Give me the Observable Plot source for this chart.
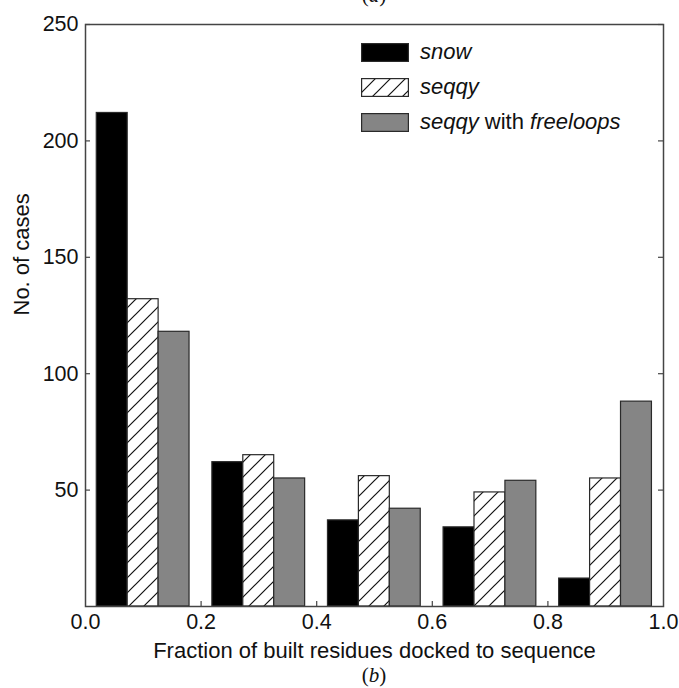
<!DOCTYPE html>
<html>
<head>
<meta charset="utf-8">
<script src="https://cdn.jsdelivr.net/npm/d3@7"></script>
<script src="https://cdn.jsdelivr.net/npm/@observablehq/plot@0.6"></script>
<style>
  html, body { margin: 0; padding: 0; background: #fff; }
  #wrap { position: relative; width: 679px; height: 688px; overflow: hidden; }
  #legend { position: absolute; left: 361px; top: 43px; font-family: "Liberation Sans", Arial, sans-serif; font-size: 22px; color: #111; }
  .row { display: flex; align-items: center; height: 18px; margin-bottom: 17px; }
  .row svg { display: block; margin-right: 11px; }
  .row span { line-height: 18px; }
</style>
</head>
<body>
<div id="wrap"></div>
<script>
// ---- data ----
const binStarts = [0, 0.2, 0.4, 0.6, 0.8];
const seriesNames = ["snow", "seqqy", "seqqy with freeloops"];
const snow = [212, 62, 37, 34, 12];
const seqqy = [132, 65, 56, 49, 55];
const seqqyFreeloops = [118, 55, 42, 54, 88];
const xTicks = [0, 0.2, 0.4, 0.6, 0.8, 1.0];
const yTicks = [50, 100, 150, 200, 250];

// ---- layout ----
const W = 679, H = 688;
const mL = 85, mR = 16, mT = 24, mB = 82;
const frameW = W - mL - mR, frameH = H - mT - mB;
const OFFSET = 0.0195, BW = 0.0535;
const font = "'Liberation Sans', Arial, sans-serif";

const seriesValues = [snow, seqqy, seqqyFreeloops];
const fills = ["#000000", "url(#hatch)", "#858585"];

function rowsFor(i) {
  return binStarts.map((b, k) => ({bin: b, value: seriesValues[i][k], i}));
}

const barMarks = seriesValues.map((_, i) =>
  Plot.rectY(rowsFor(i), {
    x1: d => d.bin + OFFSET + d.i * BW,
    x2: d => d.bin + OFFSET + (d.i + 1) * BW,
    y: "value",
    fill: fills[i],
    stroke: "#2a2a2a",
    strokeWidth: 1.2
  })
);

const svg = Plot.plot({
  width: W,
  height: H,
  marginLeft: mL,
  marginRight: mR,
  marginTop: mT,
  marginBottom: mB,
  style: {fontFamily: font, fontSize: "21px", color: "#111", background: "#fff"},
  x: {domain: [0, 1]},
  y: {domain: [0, 250]},
  marks: [
    Plot.axisX(xTicks, {tickSize: 0, tickPadding: 7, tickFormat: d3.format(".1f"), fontSize: 21.5, label: null}),
    Plot.axisY(yTicks, {tickSize: 0, tickPadding: 7, fontSize: 21.5, label: null}),
    // inward ticks
    Plot.ruleX(xTicks.slice(1, -1), {x: d => d, insetTop: frameH - 5, stroke: "#444", strokeWidth: 1.2}),
    Plot.ruleY(yTicks, {y: d => d, insetRight: frameW - 5, stroke: "#444", strokeWidth: 1.2}),
    Plot.ruleY(yTicks, {y: d => d, insetLeft: frameW - 5, stroke: "#444", strokeWidth: 1.2}),
    ...barMarks,
    Plot.frame({stroke: "#444", strokeWidth: 1.5}),
    Plot.text(["Fraction of built residues docked to sequence"], {frameAnchor: "bottom", dy: 44, lineAnchor: "middle", fontSize: 22, fill: "#111"}),
    Plot.text(["No. of cases"], {frameAnchor: "left", dx: -64, rotate: -90, lineAnchor: "middle", fontSize: 22, fill: "#111"})
  ]
});

// hatch pattern
const defs = d3.select(svg).insert("defs", ":first-child");
const pat = defs.append("pattern")
  .attr("id", "hatch")
  .attr("patternUnits", "userSpaceOnUse")
  .attr("width", 15).attr("height", 15);
pat.append("rect").attr("width", 15).attr("height", 15).attr("fill", "#fff");
pat.append("path")
  .attr("d", "M-3,3 L3,-3 M0,15 L15,0 M12,18 L18,12")
  .attr("stroke", "#111").attr("stroke-width", 1.2);

// captions (b) and clipped (a)
const capB = d3.select(svg).append("text")
  .attr("x", mL + frameW / 2).attr("y", 682)
  .attr("text-anchor", "middle")
  .style("font-family", "'Liberation Serif', 'Times New Roman', serif")
  .style("font-size", "21px").attr("fill", "#111");
capB.append("tspan").text("(");
capB.append("tspan").style("font-style", "italic").text("b");
capB.append("tspan").text(")");
const capA = d3.select(svg).append("text")
  .attr("x", mL + frameW / 2).attr("y", 2)
  .attr("text-anchor", "middle")
  .style("font-family", "'Liberation Serif', 'Times New Roman', serif")
  .style("font-size", "21px").attr("fill", "#111");
capA.append("tspan").text("(");
capA.append("tspan").style("font-style", "italic").text("a");
capA.append("tspan").text(")");

const wrap = document.getElementById("wrap");
wrap.appendChild(svg);

// legend
const legend = document.createElement("div");
legend.id = "legend";
seriesNames.forEach((name, i) => {
  const row = document.createElement("div");
  row.className = "row";
  const ns = "http://www.w3.org/2000/svg";
  const s = document.createElementNS(ns, "svg");
  s.setAttribute("width", 48); s.setAttribute("height", 19);
  const r = document.createElementNS(ns, "rect");
  r.setAttribute("x", 0.6); r.setAttribute("y", 0.6);
  r.setAttribute("width", 46.8); r.setAttribute("height", 17.8);
  r.setAttribute("fill", fills[i]); r.setAttribute("stroke", "#2a2a2a"); r.setAttribute("stroke-width", 1.2);
  s.appendChild(r);
  row.appendChild(s);
  const t = document.createElement("span");
  if (name === "seqqy with freeloops") {
    t.innerHTML = "<i>seqqy</i> with <i>freeloops</i>";
  } else {
    t.innerHTML = "<i>" + name + "</i>";
  }
  row.appendChild(t);
  legend.appendChild(row);
});
wrap.appendChild(legend);
</script>
</body>
</html>
